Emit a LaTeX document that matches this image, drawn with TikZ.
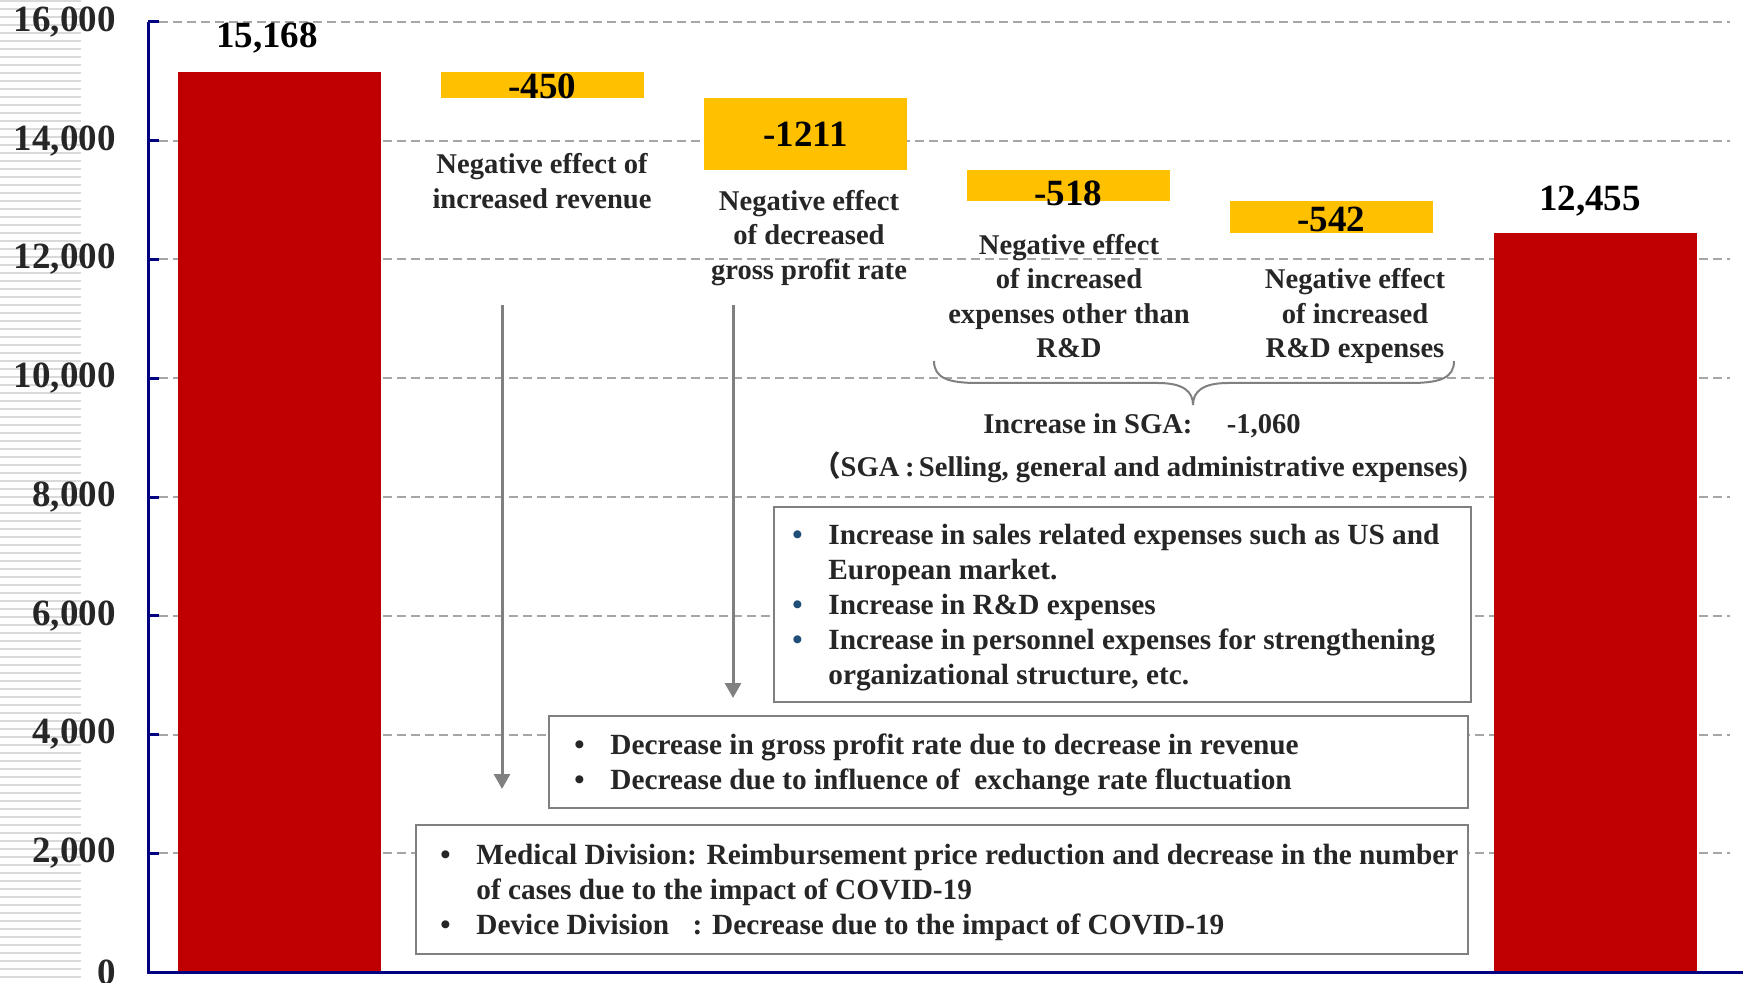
\documentclass[tikz,border=0pt]{standalone}
\usepackage{fontspec}
\setmainfont{Liberation Serif}
\newfontfamily\cjk{Noto Sans CJK JP}
\usepackage{xcolor}
\usetikzlibrary{arrows.meta,positioning,calc}

\definecolor{barred}{HTML}{C00000}
\definecolor{baryellow}{HTML}{FFC000}
\definecolor{axisblue}{HTML}{000080}
\definecolor{gridgray}{HTML}{A6A6A6}
\definecolor{stripegray}{HTML}{D9D9D9}
\definecolor{textgray}{HTML}{262626}
\definecolor{linegray}{HTML}{808080}
\definecolor{bulletblue}{HTML}{1F4E79}

\tikzset{
  bignum/.style={font=\fontsize{18.5}{22}\selectfont\bfseries, text=black, inner sep=0pt},
  ticklab/.style={font=\fontsize{18.5}{22}\selectfont\bfseries, text=textgray, inner sep=0pt, anchor=east},
  effect/.style={font=\fontsize{14.3}{17.25}\selectfont\bfseries, text=textgray, align=center, inner sep=0pt},
  notebox/.style={draw=linegray, line width=1pt, fill=white, anchor=north west, inner sep=0pt},
  notetext/.style={font=\fontsize{14.65}{17.5}\selectfont\bfseries, text=textgray, align=left, inner sep=0pt, anchor=west, yshift=-1.5pt},
  gridline/.style={gridgray, line width=1pt, dash pattern=on 4.5pt off 2.5pt},
  downarrow/.style={linegray, line width=1.5pt, -{Triangle[length=7.5pt,width=8pt]}},
}
\newcommand{\bul}[1]{\makebox[18pt][l]{\textcolor{#1}{\textbullet}}}
\newcommand{\hang}{\hspace*{18pt}}

\begin{document}
\begin{tikzpicture}[x=0.5pt, y=-0.5pt]
    \useasboundingbox (0,0) rectangle (1743,983);

    % striped strip behind the scale
    \foreach \k in {0,...,122}
        \draw[stripegray, line width=1.2pt] (0,{1+8*\k}) -- (81,{1+8*\k});

    % scale labels
    \foreach \lab [count=\i from 0] in {0,{2,000},{4,000},{6,000},{8,000},{10,000},{12,000},{14,000},{16,000}}
        \node[ticklab] (tick\i) at (116,{972-118.75*\i}) {\lab};

    % grid
    \foreach \i in {1,...,8}
        \draw[gridline] (159,{972-118.75*\i}) -- (1730,{972-118.75*\i});

    % bars
    \fill[barred] (178,72) rectangle (381,972);
    \fill[baryellow] (441,72) rectangle (644,98.5);
    \fill[baryellow] (704,98.5) rectangle (907,170.4);
    \fill[baryellow] (967,170.4) rectangle (1170,201.1);
    \fill[baryellow] (1230,201.1) rectangle (1433,233);
    \fill[barred] (1494,233) rectangle (1697,972);

    % axes
    \draw[axisblue, line width=1.5pt] (148,22) -- (148,972) -- (1743,972);
    \foreach \i in {1,...,8}
        \draw[axisblue, line width=1.5pt] (148,{972-118.75*\i}) -- (159,{972-118.75*\i});

    % values
    \node[bignum] (startval) at (267,38) {15,168};
    \node[bignum] (endval) at (1590,201) {12,455};
    \node[bignum] (revval) at (542.5,86) {-450};
    \node[bignum] (gpval) at (805.5,134) {-1211};
    \node[bignum] (sgaval) at (1068.5,193) {-518};
    \node[bignum] (rdval) at (1331.5,219) {-542};

    % effect labels
    \node[effect] (revlab) at (542,181) {Negative effect of\\increased revenue};
    \node[effect] (gplab) at (809,238) {Negative effect\\ of decreased\\gross profit rate};
    \node[effect] (sgalab) at (1069,296) {Negative effect\\ of increased\\expenses other than\\R\&D};
    \node[effect] (rdlab) at (1355,316) {Negative effect\\ of increased\\R\&D expenses};

    % brace over the two SGA steps
    \coordinate (brL) at (934,361);
    \coordinate (brT) at (1193,405);
    \coordinate (brR) at (1454,361);
    \draw[linegray, line width=1pt] (brL) .. controls (934,378) and (948,383) .. (978,383) -- (1158,383)
        .. controls (1184,383) and (1193,392) .. (brT)
        .. controls (1193,392) and (1202,383) .. (1228,383) -- (1410,383)
        .. controls (1440,383) and (1454,378) .. (brR);
    \node[effect] (sgasum) at (1142,426) {Increase in SGA:\hspace{1.2em}-1,060};
    \node[effect] (sgadef) at (1140,467) {{\cjk （}SGA\hspace{0.2em}:\hspace{0.15em}Selling, general and administrative expenses)};

    % arrows
    \coordinate (revtop) at (502,305);
    \coordinate (revend) at (502,789);
    \coordinate (gptop) at (733,305);
    \coordinate (gpend) at (733,698);
    \draw[downarrow] (revtop) -- (revend);
    \draw[downarrow] (gptop) -- (gpend);

    % note boxes
    \node[notebox, minimum width=348.5pt, minimum height=97.5pt] (sgabox) at (773,506) {};
    \node[notetext] (sgatext) at ([xshift=9.5pt]sgabox.west) {\bul{bulletblue}Increase in sales related expenses such as US and\\
        \hang European market.\\
        \bul{bulletblue}Increase in R\&D expenses\\
        \bul{bulletblue}Increase in personnel expenses for strengthening\\
        \hang organizational structure, etc.};

    \node[notebox, minimum width=459.5pt, minimum height=46pt] (gpbox) at (548,715) {};
    \node[notetext] (gptext) at ([xshift=13pt]gpbox.west) {\bul{textgray}Decrease in gross profit rate due to decrease in revenue\\
        \bul{textgray}Decrease due to influence of \ exchange rate fluctuation};

    \node[notebox, minimum width=526pt, minimum height=64.5pt] (revbox) at (415,824) {};
    \node[notetext] (revtext) at ([xshift=12.5pt]revbox.west) {\bul{textgray}Medical Division: Reimbursement price reduction and decrease in the number\\
        \hang of cases due to the impact of COVID-19\\
        \bul{textgray}Device Division\hspace{0.8em}: Decrease due to the impact of COVID-19};
\end{tikzpicture}
\end{document}
